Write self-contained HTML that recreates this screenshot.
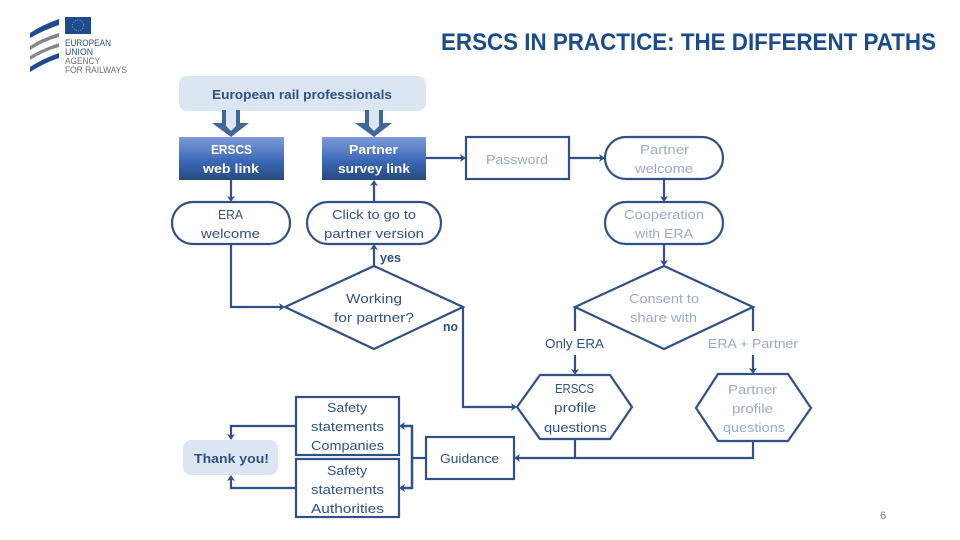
<!DOCTYPE html>
<html><head><meta charset="utf-8"><style>
html,body{margin:0;padding:0;background:#fff}
svg{display:block}
text{font-family:"Liberation Sans",sans-serif;font-size:13px;fill:#2f5186}
.l{fill:#9aabc9}
.b{font-weight:bold}
.w{fill:#fff;font-weight:bold}
.s{fill:none;stroke:#2f5186;stroke-width:2.200}
.f{fill:#fff;stroke:#2f5186;stroke-width:2.200}
.a{fill:#2f5186}
</style></head><body>
<svg width="960" height="540" viewBox="0 0 960 540" xmlns="http://www.w3.org/2000/svg">
<defs><linearGradient id="g" x1="0" y1="0" x2="0" y2="1"><stop offset="0" stop-color="#7d9cd8"/><stop offset=".55" stop-color="#3c69b8"/><stop offset="1" stop-color="#254a7c"/></linearGradient></defs>
<!-- logo -->
<rect x="65" y="17" width="26" height="17" fill="#1f4a8f"/>
<circle cx="78" cy="25.500" r="5.500" fill="none" stroke="#8f9f9f" stroke-width="1" stroke-dasharray="1 1.500"/>
<path d="M30 33Q42 25 59 19L59 25Q44 30 30 38Z" fill="#1f4a8f"/>
<path d="M30 46Q42 38 59 33L59 37Q44 41 30 50Z" fill="#85858c"/>
<path d="M30 56Q42 49 59 43L59 47Q44 51 30 60Z" fill="#85858c"/>
<path d="M30 67Q42 59 59 53L59 58Q44 63 30 72Z" fill="#1f4a8f"/>
<text x="65" y="46" textLength="46" lengthAdjust="spacingAndGlyphs" style="font-size:9px;fill:#2b4f88">EUROPEAN</text>
<text x="65" y="55" textLength="28" lengthAdjust="spacingAndGlyphs" style="font-size:9px;fill:#2b4f88">UNION</text>
<text x="65" y="64" textLength="35" lengthAdjust="spacingAndGlyphs" style="font-size:9px;fill:#707078">AGENCY</text>
<text x="65" y="73" textLength="62" lengthAdjust="spacingAndGlyphs" style="font-size:9px;fill:#707078">FOR RAILWAYS</text>
<text x="441" y="50" textLength="495" lengthAdjust="spacingAndGlyphs" style="font-size:24px;font-weight:bold;fill:#1b4b8a">ERSCS IN PRACTICE: THE DIFFERENT PATHS</text>

<!-- top -->
<rect x="179" y="76" width="247" height="35" rx="8" fill="#dce6f2"/>
<path d="M222 110H240V123H249L231 137L212 123H222Z" fill="#3f6797"/>
<path d="M226 110H236V126L231 131L226 126Z" fill="#dce6f2"/>
<path d="M365 110H383V123H392L374 137L355 123H365Z" fill="#3f6797"/>
<path d="M369 110H379V126L374 131L369 126Z" fill="#dce6f2"/>
<rect x="179" y="137" width="105" height="43" fill="url(#g)"/>
<rect x="322" y="137" width="104" height="43" fill="url(#g)"/>

<!-- connectors -->
<path class="s" d="M231 180V200M374 202V182M426 158H464M569 158H603M664 179V200M664 244V264M374 266V246"/>
<path class="s" d="M231 244V307H283"/>
<path class="s" d="M463 307V407H515"/>
<path class="s" d="M575 307V331M575 355V373M753 307V331M753 355V372"/>
<path class="s" d="M753 441V458H516M575 439V458"/>
<path class="s" d="M426 458H412"/>
<path class="s" style="stroke-width:2.500" d="M401 426H412V488H401"/>
<path class="s" d="M296 426H231V438M296 488H231V477"/>

<!-- nodes -->
<rect class="f" x="172" y="202" width="118" height="42" rx="21"/>
<rect class="f" x="307" y="202" width="134" height="42" rx="21"/>
<rect class="f" x="466" y="137" width="103" height="42"/>
<rect class="f" x="605" y="137" width="118" height="42" rx="21"/>
<rect class="f" x="605" y="202" width="118" height="42" rx="21"/>
<path class="f" d="M374 266L463 307L374 349L285 307Z"/>
<path class="f" d="M664 266L753 307L664 349L575 307Z"/>
<path class="f" d="M517 407L540 375H610L632 407L610 439H540Z"/>
<path class="f" d="M696 408L718 374H788L811 408L788 441H718Z"/>
<rect class="f" x="426" y="437" width="88" height="42"/>
<rect class="f" x="296" y="397" width="103" height="58"/>
<rect class="f" x="296" y="459" width="103" height="58"/>
<rect x="183" y="440" width="95" height="35" rx="8" fill="#dce6f2"/>

<!-- arrowheads -->
<path class="a" d="M227 196L231 197.500L235 196L231 202ZM370 186L374 184.500L378 186L374 180ZM460 154L461.500 158L460 162L466 158ZM599 154L600.500 158L599 162L605 158ZM660 196L664 197.500L668 196L664 202ZM660 260L664 261.500L668 260L664 266ZM370 250L374 248.500L378 250L374 244ZM279 303L280.500 307L279 311L285 307ZM511 403L512.500 407L511 411L517 407ZM571 369L575 370.500L579 369L575 375ZM749 368L753 369.500L757 368L753 374ZM520 454L518.500 458L520 462L514 458ZM405 422L403.500 426L405 430L399 426ZM405 484L403.500 488L405 492L399 488ZM227 434L231 435.500L235 434L231 440ZM227 481L231 479.500L235 481L231 475Z"/>

<!-- labels -->
<text x="212" y="99" textLength="180" lengthAdjust="spacingAndGlyphs" class="b">European rail professionals</text>
<text x="211" y="154" textLength="41" lengthAdjust="spacingAndGlyphs" class="w">ERSCS</text>
<text x="203" y="173" textLength="56" lengthAdjust="spacingAndGlyphs" class="w">web link</text>
<text x="349" y="154" textLength="49" lengthAdjust="spacingAndGlyphs" class="w">Partner</text>
<text x="338" y="173" textLength="72" lengthAdjust="spacingAndGlyphs" class="w">survey link</text>
<text x="218" y="219" textLength="25" lengthAdjust="spacingAndGlyphs">ERA</text>
<text x="201" y="238" textLength="59" lengthAdjust="spacingAndGlyphs">welcome</text>
<text x="332" y="219" textLength="84" lengthAdjust="spacingAndGlyphs">Click to go to</text>
<text x="324" y="238" textLength="100" lengthAdjust="spacingAndGlyphs">partner version</text>
<text x="380" y="262" textLength="21" lengthAdjust="spacingAndGlyphs" class="b">yes</text>
<text x="486" y="164" textLength="62" lengthAdjust="spacingAndGlyphs" class="l">Password</text>
<text x="640" y="154" textLength="49" lengthAdjust="spacingAndGlyphs" class="l">Partner</text>
<text x="635" y="173" textLength="58" lengthAdjust="spacingAndGlyphs" class="l">welcome</text>
<text x="624" y="219" textLength="80" lengthAdjust="spacingAndGlyphs" class="l">Cooperation</text>
<text x="635" y="238" textLength="58" lengthAdjust="spacingAndGlyphs" class="l">with ERA</text>
<text x="629" y="303" textLength="70" lengthAdjust="spacingAndGlyphs" class="l">Consent to</text>
<text x="630" y="322" textLength="67" lengthAdjust="spacingAndGlyphs" class="l">share with</text>
<text x="346" y="303" textLength="56" lengthAdjust="spacingAndGlyphs">Working</text>
<text x="334" y="322" textLength="80" lengthAdjust="spacingAndGlyphs">for partner?</text>
<text x="443" y="331" textLength="15" lengthAdjust="spacingAndGlyphs" class="b">no</text>
<text x="545" y="348" textLength="59" lengthAdjust="spacingAndGlyphs">Only ERA</text>
<text x="708" y="348" textLength="90" lengthAdjust="spacingAndGlyphs" class="l">ERA + Partner</text>
<text x="555" y="393" textLength="39" lengthAdjust="spacingAndGlyphs">ERSCS</text>
<text x="554" y="412" textLength="42" lengthAdjust="spacingAndGlyphs">profile</text>
<text x="544" y="432" textLength="63" lengthAdjust="spacingAndGlyphs">questions</text>
<text x="728" y="394" textLength="49" lengthAdjust="spacingAndGlyphs" class="l">Partner</text>
<text x="732" y="413" textLength="41" lengthAdjust="spacingAndGlyphs" class="l">profile</text>
<text x="723" y="432" textLength="62" lengthAdjust="spacingAndGlyphs" class="l">questions</text>
<text x="440" y="463" textLength="59" lengthAdjust="spacingAndGlyphs">Guidance</text>
<text x="194" y="463" textLength="75" lengthAdjust="spacingAndGlyphs" class="b">Thank you!</text>
<text x="327" y="412" textLength="40" lengthAdjust="spacingAndGlyphs">Safety</text>
<text x="311" y="431" textLength="73" lengthAdjust="spacingAndGlyphs">statements</text>
<text x="311" y="450" textLength="73" lengthAdjust="spacingAndGlyphs">Companies</text>
<text x="327" y="475" textLength="40" lengthAdjust="spacingAndGlyphs">Safety</text>
<text x="311" y="494" textLength="73" lengthAdjust="spacingAndGlyphs">statements</text>
<text x="311" y="513" textLength="73" lengthAdjust="spacingAndGlyphs">Authorities</text>
<text x="880" y="519" style="font-size:11px;fill:#6f7f95">6</text>
</svg>
</body></html>
